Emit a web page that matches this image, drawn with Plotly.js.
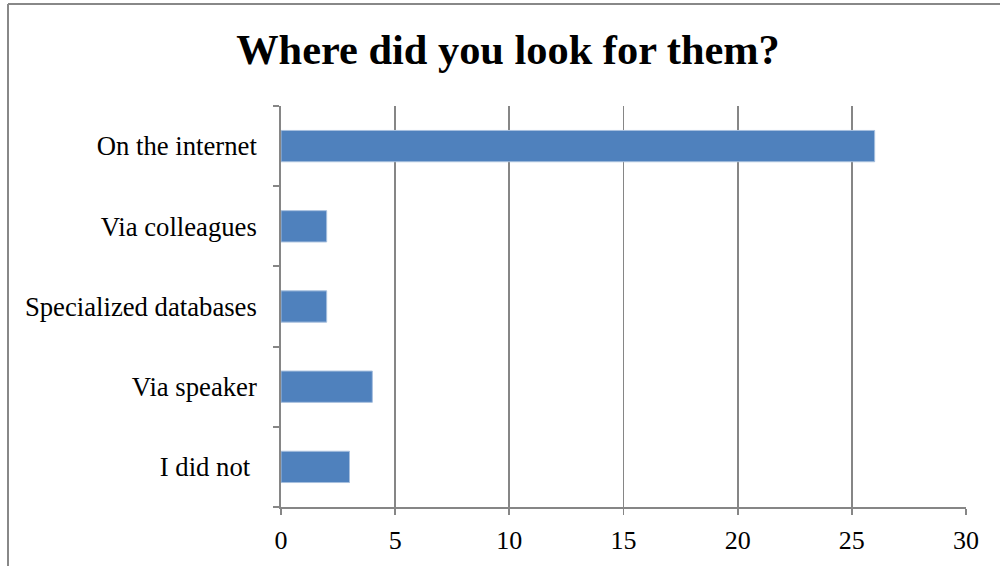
<!DOCTYPE html>
<html>
<head>
<meta charset="utf-8">
<script src="https://cdn.plot.ly/plotly-3.0.1.min.js"></script>
<style>html,body{margin:0;padding:0;background:#fff;}</style>
</head>
<body>
<div id="chart" style="width:1000px;height:566px;"></div>
<script>
const categories = ["I did not ", "Via speaker", "Specialized databases", "Via colleagues", "On the internet"];
const values = [3, 4, 2, 2, 26];
const xTicks = [0, 5, 10, 15, 20, 25, 30];
const titleText = "Where did you look for them?";

const W = 1000, H = 566;
const L = 281, R = 34, T = 106, B = 59;
const pw = W - L - R, ph = H - T - B;
const px = v => (v - L) / pw;
const py = v => (H - B - v) / ph;

const trace = {
  type: "bar",
  orientation: "h",
  y: categories,
  x: values,
  marker: {color: "#4F81BD", line: {color: "#A7BFDE", width: 1}},
  hoverinfo: "none"
};

const layout = {
  width: W, height: H,
  margin: {l: L, r: R, t: T, b: B},
  paper_bgcolor: "#ffffff",
  plot_bgcolor: "#ffffff",
  showlegend: false,
  bargap: 0.61,
  font: {family: "Liberation Serif, Times New Roman, serif", color: "#000"},
  title: {
    text: "<b>" + titleText + "</b>",
    font: {family: "Liberation Serif, Times New Roman, serif", size: 42.4, color: "#000"},
    x: 0.508, xanchor: "center", y: 0.913, yanchor: "middle"
  },
  xaxis: {
    range: [0, 30],
    tickvals: xTicks,
    ticktext: xTicks.map(String),
    showgrid: true, gridcolor: "#868686", gridwidth: 1.8,
    zeroline: false,
    showline: true, linecolor: "#868686", linewidth: 1.8,
    ticks: "outside", ticklen: 6, tickcolor: "#868686", tickwidth: 1.8,
    ticklabelstandoff: 3,
    tickfont: {size: 26, color: "#000"},
    fixedrange: true
  },
  yaxis: {
    type: "category",
    categoryorder: "array",
    categoryarray: categories,
    showgrid: false, zeroline: false,
    showline: true, linecolor: "#868686", linewidth: 1.8,
    ticks: "outside", ticklen: 6, tickcolor: "#868686", tickwidth: 1.8,
    tickson: "boundaries",
    ticklabelstandoff: 17,
    tickfont: {size: 26.7, color: "#000"},
    fixedrange: true
  },
  shapes: [
    {type: "line", xref: "paper", yref: "paper", x0: px(8), x1: px(1002), y0: py(4), y1: py(4),
     line: {color: "#888888", width: 2}},
    {type: "line", xref: "paper", yref: "paper", x0: px(8), x1: px(8), y0: py(4), y1: py(570),
     line: {color: "#888888", width: 2}}
  ]
};

Plotly.newPlot("chart", [trace], layout, {displayModeBar: false, staticPlot: true});
</script>
</body>
</html>
